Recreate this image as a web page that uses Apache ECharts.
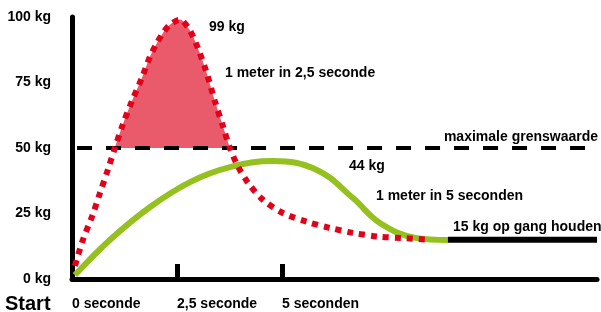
<!DOCTYPE html>
<html>
<head>
<meta charset="utf-8">
<script src="https://cdn.jsdelivr.net/npm/echarts@6/dist/echarts.min.js"></script>
<style>
  html, body { margin: 0; padding: 0; background: #fff; }
  #chart { width: 601px; height: 312px; }
</style>
</head>
<body>
<div id="chart"></div>
<script>
// tijd in seconden, kracht in kg
var xTickValues = [0, 2.5, 5];
var xTickLabels = ['0 seconde', '2,5 seconde', '5 seconden'];

// 1 meter in 2,5 seconde (rood, gestippeld)
var fastTime = [0.07, 0.26, 0.48, 0.67, 0.86, 1.02, 1.21, 1.43, 1.67, 1.86, 2.02, 2.17, 2.33, 2.57,
  2.8, 3.0, 3.2, 3.4, 3.6, 3.76, 3.95, 4.2, 4.55, 5.02, 5.6, 6.14, 6.69, 7.29, 7.88, 8.5];
var fastKg = [5, 15, 24, 33, 42, 50, 59, 68, 77, 85, 90, 94, 97, 99,
  95, 88, 79, 68, 58, 50, 43, 36.5, 30.2, 25.2, 21.8, 19.5, 17.6, 16.2, 15.6, 15];

// 1 meter in 5 seconden (groen)
var slowTime = [0.07, 0.9, 1.86, 2.81, 3.76, 4.79, 5.83, 6.69, 7.33, 8.21, 8.95];
var slowKg = [1.5, 14.9, 27.5, 37, 42.7, 45, 41.6, 30.9, 21.4, 15.6, 14.9];

var limitKg = 50;
var holdKg = 15;

function pairs(xs, ys) {
  return xs.map(function (x, i) { return [x, ys[i]]; });
}

var fastData = pairs(fastTime, fastKg);
// deel boven de grenswaarde
var overData = fastData.filter(function (p) { return p[0] >= 1.02 && p[0] <= 3.76; });

var chart = echarts.init(document.getElementById('chart'));
var font = 'Liberation Sans';

var option = {
  animation: false,
  grid: { left: 72, right: 4, top: 17, bottom: 33, containLabel: false },
  xAxis: {
    type: 'value',
    min: 0,
    max: 12.5,
    axisLine: { show: true, lineStyle: { color: '#000', width: 5 } },
    splitLine: { show: false },
    axisTick: {
      show: true,
      customValues: [2.5, 5],
      inside: true,
      length: 15,
      lineStyle: { color: '#000', width: 5 }
    },
    axisLabel: {
      customValues: xTickValues,
      formatter: function (v) { return xTickLabels[xTickValues.indexOf(v)]; },
      align: 'left',
      margin: 18,
      color: '#000',
      fontFamily: font,
      fontWeight: 'bold',
      fontSize: 14
    }
  },
  yAxis: {
    type: 'value',
    min: 0,
    max: 100,
    interval: 25,
    axisLine: { show: true, lineStyle: { color: '#000', width: 5 } },
    axisTick: { show: false },
    splitLine: { show: false },
    axisLabel: {
      formatter: '{value} kg',
      margin: 21,
      color: '#000',
      fontFamily: font,
      fontWeight: 'bold',
      fontSize: 14
    }
  },
  series: [
    {
      type: 'line',
      data: overData,
      smooth: 0.3,
      symbol: 'none',
      lineStyle: { width: 0 },
      areaStyle: { origin: limitKg, color: '#e95a6a', opacity: 1 },
      z: 1
    },
    {
      type: 'line',
      data: [[0.12, limitKg], [12.5, limitKg]],
      symbol: 'none',
      lineStyle: { color: '#000', width: 4, type: [15, 14] },
      z: 2
    },
    {
      type: 'line',
      data: pairs(slowTime, slowKg),
      smooth: 0.4,
      symbol: 'none',
      lineStyle: { color: '#95c11f', width: 6 },
      z: 3
    },
    {
      type: 'line',
      data: [[8.95, holdKg], [12.5, holdKg]],
      symbol: 'none',
      lineStyle: { color: '#000', width: 6 },
      z: 3
    },
    {
      type: 'line',
      data: fastData,
      smooth: 0.3,
      symbol: 'none',
      lineStyle: { color: '#e2001a', width: 6, type: [6, 6], cap: 'butt' },
      z: 4
    }
  ],
  graphic: [
    { type: 'text', x: 5, y: 304, style: { text: 'Start', font: 'bold 20px ' + font, fill: '#000', verticalAlign: 'middle' } },
    { type: 'text', x: 209, y: 27, style: { text: '99 kg', font: 'bold 14px ' + font, fill: '#000', verticalAlign: 'middle' } },
    { type: 'text', x: 225, y: 73, style: { text: '1 meter in 2,5 seconde', font: 'bold 14px ' + font, fill: '#000', verticalAlign: 'middle' } },
    { type: 'text', x: 598, y: 137, style: { text: 'maximale grenswaarde', font: 'bold 14px ' + font, fill: '#000', align: 'right', verticalAlign: 'middle' } },
    { type: 'text', x: 349, y: 166, style: { text: '44 kg', font: 'bold 14px ' + font, fill: '#000', verticalAlign: 'middle' } },
    { type: 'text', x: 376, y: 196, style: { text: '1 meter in 5 seconden', font: 'bold 14px ' + font, fill: '#000', verticalAlign: 'middle' } },
    { type: 'text', x: 453, y: 227, style: { text: '15 kg op gang houden', font: 'bold 14px ' + font, fill: '#000', verticalAlign: 'middle' } }
  ]
};

chart.setOption(option);
window.addEventListener('resize', function () { chart.resize(); });
</script>
</body>
</html>
